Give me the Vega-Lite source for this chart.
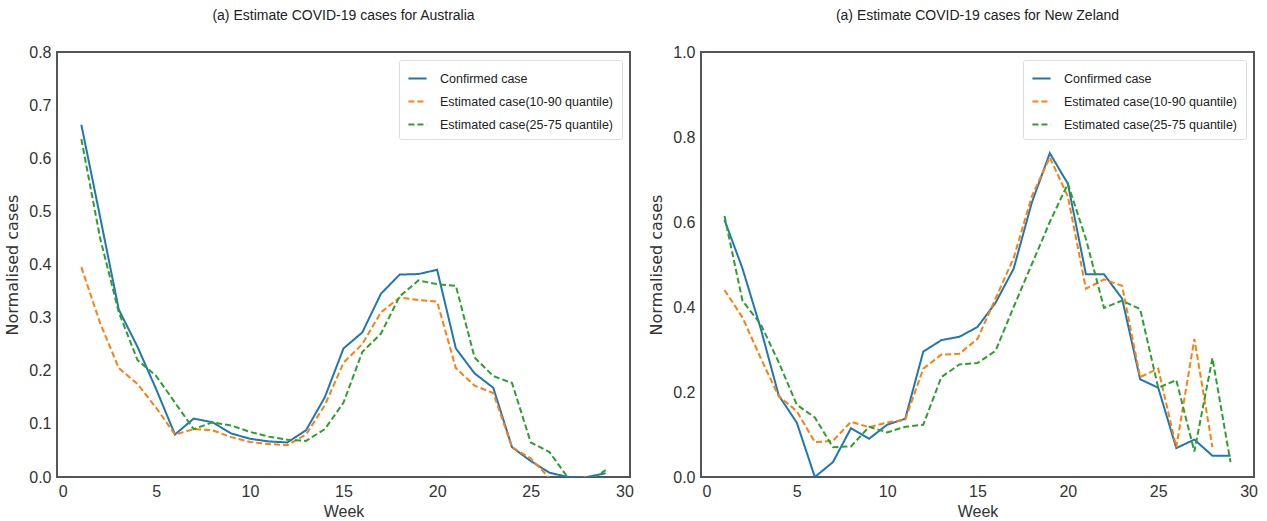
{
  "$schema": "https://vega.github.io/schema/vega-lite/v6.json",
  "background": "white",
  "padding": {"left": 3, "top": 8, "right": 0, "bottom": 0},
  "datasets": {
    "aus": [
      {"week": 1, "series": "Confirmed case", "value": 0.663},
      {"week": 2, "series": "Confirmed case", "value": 0.49},
      {"week": 3, "series": "Confirmed case", "value": 0.315},
      {"week": 4, "series": "Confirmed case", "value": 0.245},
      {"week": 5, "series": "Confirmed case", "value": 0.165},
      {"week": 6, "series": "Confirmed case", "value": 0.08},
      {"week": 7, "series": "Confirmed case", "value": 0.11},
      {"week": 8, "series": "Confirmed case", "value": 0.103},
      {"week": 9, "series": "Confirmed case", "value": 0.082},
      {"week": 10, "series": "Confirmed case", "value": 0.072},
      {"week": 11, "series": "Confirmed case", "value": 0.067},
      {"week": 12, "series": "Confirmed case", "value": 0.065},
      {"week": 13, "series": "Confirmed case", "value": 0.088},
      {"week": 14, "series": "Confirmed case", "value": 0.15},
      {"week": 15, "series": "Confirmed case", "value": 0.242},
      {"week": 16, "series": "Confirmed case", "value": 0.272},
      {"week": 17, "series": "Confirmed case", "value": 0.345},
      {"week": 18, "series": "Confirmed case", "value": 0.381},
      {"week": 19, "series": "Confirmed case", "value": 0.382},
      {"week": 20, "series": "Confirmed case", "value": 0.39},
      {"week": 21, "series": "Confirmed case", "value": 0.242},
      {"week": 22, "series": "Confirmed case", "value": 0.195},
      {"week": 23, "series": "Confirmed case", "value": 0.168},
      {"week": 24, "series": "Confirmed case", "value": 0.056},
      {"week": 25, "series": "Confirmed case", "value": 0.03},
      {"week": 26, "series": "Confirmed case", "value": 0.008},
      {"week": 27, "series": "Confirmed case", "value": 0.0},
      {"week": 28, "series": "Confirmed case", "value": 0.0},
      {"week": 29, "series": "Confirmed case", "value": 0.007},
      {"week": 1, "series": "Estimated case(10-90 quantile)", "value": 0.395},
      {"week": 2, "series": "Estimated case(10-90 quantile)", "value": 0.29},
      {"week": 3, "series": "Estimated case(10-90 quantile)", "value": 0.205},
      {"week": 4, "series": "Estimated case(10-90 quantile)", "value": 0.175},
      {"week": 5, "series": "Estimated case(10-90 quantile)", "value": 0.13},
      {"week": 6, "series": "Estimated case(10-90 quantile)", "value": 0.08},
      {"week": 7, "series": "Estimated case(10-90 quantile)", "value": 0.09},
      {"week": 8, "series": "Estimated case(10-90 quantile)", "value": 0.088},
      {"week": 9, "series": "Estimated case(10-90 quantile)", "value": 0.075},
      {"week": 10, "series": "Estimated case(10-90 quantile)", "value": 0.066},
      {"week": 11, "series": "Estimated case(10-90 quantile)", "value": 0.062},
      {"week": 12, "series": "Estimated case(10-90 quantile)", "value": 0.06},
      {"week": 13, "series": "Estimated case(10-90 quantile)", "value": 0.08},
      {"week": 14, "series": "Estimated case(10-90 quantile)", "value": 0.135},
      {"week": 15, "series": "Estimated case(10-90 quantile)", "value": 0.215},
      {"week": 16, "series": "Estimated case(10-90 quantile)", "value": 0.25},
      {"week": 17, "series": "Estimated case(10-90 quantile)", "value": 0.31},
      {"week": 18, "series": "Estimated case(10-90 quantile)", "value": 0.338},
      {"week": 19, "series": "Estimated case(10-90 quantile)", "value": 0.333},
      {"week": 20, "series": "Estimated case(10-90 quantile)", "value": 0.33},
      {"week": 21, "series": "Estimated case(10-90 quantile)", "value": 0.205},
      {"week": 22, "series": "Estimated case(10-90 quantile)", "value": 0.172},
      {"week": 23, "series": "Estimated case(10-90 quantile)", "value": 0.158},
      {"week": 24, "series": "Estimated case(10-90 quantile)", "value": 0.056},
      {"week": 25, "series": "Estimated case(10-90 quantile)", "value": 0.035},
      {"week": 26, "series": "Estimated case(10-90 quantile)", "value": -0.002},
      {"week": 27, "series": "Estimated case(10-90 quantile)", "value": -0.03},
      {"week": 28, "series": "Estimated case(10-90 quantile)", "value": 0.004},
      {"week": 1, "series": "Estimated case(25-75 quantile)", "value": 0.636},
      {"week": 2, "series": "Estimated case(25-75 quantile)", "value": 0.45},
      {"week": 3, "series": "Estimated case(25-75 quantile)", "value": 0.31},
      {"week": 4, "series": "Estimated case(25-75 quantile)", "value": 0.22},
      {"week": 5, "series": "Estimated case(25-75 quantile)", "value": 0.19},
      {"week": 6, "series": "Estimated case(25-75 quantile)", "value": 0.14},
      {"week": 7, "series": "Estimated case(25-75 quantile)", "value": 0.09},
      {"week": 8, "series": "Estimated case(25-75 quantile)", "value": 0.103},
      {"week": 9, "series": "Estimated case(25-75 quantile)", "value": 0.097},
      {"week": 10, "series": "Estimated case(25-75 quantile)", "value": 0.085},
      {"week": 11, "series": "Estimated case(25-75 quantile)", "value": 0.076},
      {"week": 12, "series": "Estimated case(25-75 quantile)", "value": 0.07},
      {"week": 13, "series": "Estimated case(25-75 quantile)", "value": 0.068},
      {"week": 14, "series": "Estimated case(25-75 quantile)", "value": 0.09},
      {"week": 15, "series": "Estimated case(25-75 quantile)", "value": 0.14},
      {"week": 16, "series": "Estimated case(25-75 quantile)", "value": 0.235},
      {"week": 17, "series": "Estimated case(25-75 quantile)", "value": 0.27},
      {"week": 18, "series": "Estimated case(25-75 quantile)", "value": 0.34},
      {"week": 19, "series": "Estimated case(25-75 quantile)", "value": 0.37},
      {"week": 20, "series": "Estimated case(25-75 quantile)", "value": 0.363},
      {"week": 21, "series": "Estimated case(25-75 quantile)", "value": 0.36},
      {"week": 22, "series": "Estimated case(25-75 quantile)", "value": 0.225},
      {"week": 23, "series": "Estimated case(25-75 quantile)", "value": 0.19},
      {"week": 24, "series": "Estimated case(25-75 quantile)", "value": 0.177},
      {"week": 25, "series": "Estimated case(25-75 quantile)", "value": 0.065},
      {"week": 26, "series": "Estimated case(25-75 quantile)", "value": 0.047},
      {"week": 27, "series": "Estimated case(25-75 quantile)", "value": -0.002},
      {"week": 28, "series": "Estimated case(25-75 quantile)", "value": -0.01},
      {"week": 29, "series": "Estimated case(25-75 quantile)", "value": 0.013}
    ],
    "nz": [
      {"week": 1, "series": "Confirmed case", "value": 0.605},
      {"week": 2, "series": "Confirmed case", "value": 0.49},
      {"week": 3, "series": "Confirmed case", "value": 0.35},
      {"week": 4, "series": "Confirmed case", "value": 0.192},
      {"week": 5, "series": "Confirmed case", "value": 0.128},
      {"week": 6, "series": "Confirmed case", "value": 0.0},
      {"week": 7, "series": "Confirmed case", "value": 0.035},
      {"week": 8, "series": "Confirmed case", "value": 0.115},
      {"week": 9, "series": "Confirmed case", "value": 0.09},
      {"week": 10, "series": "Confirmed case", "value": 0.123},
      {"week": 11, "series": "Confirmed case", "value": 0.137},
      {"week": 12, "series": "Confirmed case", "value": 0.295},
      {"week": 13, "series": "Confirmed case", "value": 0.322},
      {"week": 14, "series": "Confirmed case", "value": 0.33},
      {"week": 15, "series": "Confirmed case", "value": 0.353},
      {"week": 16, "series": "Confirmed case", "value": 0.41},
      {"week": 17, "series": "Confirmed case", "value": 0.49},
      {"week": 18, "series": "Confirmed case", "value": 0.645},
      {"week": 19, "series": "Confirmed case", "value": 0.762},
      {"week": 20, "series": "Confirmed case", "value": 0.69},
      {"week": 21, "series": "Confirmed case", "value": 0.477},
      {"week": 22, "series": "Confirmed case", "value": 0.477},
      {"week": 23, "series": "Confirmed case", "value": 0.42},
      {"week": 24, "series": "Confirmed case", "value": 0.23},
      {"week": 25, "series": "Confirmed case", "value": 0.21},
      {"week": 26, "series": "Confirmed case", "value": 0.068},
      {"week": 27, "series": "Confirmed case", "value": 0.088},
      {"week": 28, "series": "Confirmed case", "value": 0.05},
      {"week": 29, "series": "Confirmed case", "value": 0.05},
      {"week": 1, "series": "Estimated case(10-90 quantile)", "value": 0.44},
      {"week": 2, "series": "Estimated case(10-90 quantile)", "value": 0.375},
      {"week": 3, "series": "Estimated case(10-90 quantile)", "value": 0.28},
      {"week": 4, "series": "Estimated case(10-90 quantile)", "value": 0.19},
      {"week": 5, "series": "Estimated case(10-90 quantile)", "value": 0.155},
      {"week": 6, "series": "Estimated case(10-90 quantile)", "value": 0.082},
      {"week": 7, "series": "Estimated case(10-90 quantile)", "value": 0.085},
      {"week": 8, "series": "Estimated case(10-90 quantile)", "value": 0.13},
      {"week": 9, "series": "Estimated case(10-90 quantile)", "value": 0.117},
      {"week": 10, "series": "Estimated case(10-90 quantile)", "value": 0.128},
      {"week": 11, "series": "Estimated case(10-90 quantile)", "value": 0.135},
      {"week": 12, "series": "Estimated case(10-90 quantile)", "value": 0.255},
      {"week": 13, "series": "Estimated case(10-90 quantile)", "value": 0.288},
      {"week": 14, "series": "Estimated case(10-90 quantile)", "value": 0.29},
      {"week": 15, "series": "Estimated case(10-90 quantile)", "value": 0.325},
      {"week": 16, "series": "Estimated case(10-90 quantile)", "value": 0.42},
      {"week": 17, "series": "Estimated case(10-90 quantile)", "value": 0.515},
      {"week": 18, "series": "Estimated case(10-90 quantile)", "value": 0.66},
      {"week": 19, "series": "Estimated case(10-90 quantile)", "value": 0.752},
      {"week": 20, "series": "Estimated case(10-90 quantile)", "value": 0.66},
      {"week": 21, "series": "Estimated case(10-90 quantile)", "value": 0.443},
      {"week": 22, "series": "Estimated case(10-90 quantile)", "value": 0.465},
      {"week": 23, "series": "Estimated case(10-90 quantile)", "value": 0.45},
      {"week": 24, "series": "Estimated case(10-90 quantile)", "value": 0.235},
      {"week": 25, "series": "Estimated case(10-90 quantile)", "value": 0.255},
      {"week": 26, "series": "Estimated case(10-90 quantile)", "value": 0.07},
      {"week": 27, "series": "Estimated case(10-90 quantile)", "value": 0.325},
      {"week": 28, "series": "Estimated case(10-90 quantile)", "value": 0.07},
      {"week": 1, "series": "Estimated case(25-75 quantile)", "value": 0.614},
      {"week": 2, "series": "Estimated case(25-75 quantile)", "value": 0.414},
      {"week": 3, "series": "Estimated case(25-75 quantile)", "value": 0.36},
      {"week": 4, "series": "Estimated case(25-75 quantile)", "value": 0.27},
      {"week": 5, "series": "Estimated case(25-75 quantile)", "value": 0.17},
      {"week": 6, "series": "Estimated case(25-75 quantile)", "value": 0.14},
      {"week": 7, "series": "Estimated case(25-75 quantile)", "value": 0.07},
      {"week": 8, "series": "Estimated case(25-75 quantile)", "value": 0.072},
      {"week": 9, "series": "Estimated case(25-75 quantile)", "value": 0.118},
      {"week": 10, "series": "Estimated case(25-75 quantile)", "value": 0.105},
      {"week": 11, "series": "Estimated case(25-75 quantile)", "value": 0.118},
      {"week": 12, "series": "Estimated case(25-75 quantile)", "value": 0.123},
      {"week": 13, "series": "Estimated case(25-75 quantile)", "value": 0.235},
      {"week": 14, "series": "Estimated case(25-75 quantile)", "value": 0.265},
      {"week": 15, "series": "Estimated case(25-75 quantile)", "value": 0.268},
      {"week": 16, "series": "Estimated case(25-75 quantile)", "value": 0.297},
      {"week": 17, "series": "Estimated case(25-75 quantile)", "value": 0.4},
      {"week": 18, "series": "Estimated case(25-75 quantile)", "value": 0.5},
      {"week": 19, "series": "Estimated case(25-75 quantile)", "value": 0.6},
      {"week": 20, "series": "Estimated case(25-75 quantile)", "value": 0.69},
      {"week": 21, "series": "Estimated case(25-75 quantile)", "value": 0.56},
      {"week": 22, "series": "Estimated case(25-75 quantile)", "value": 0.398},
      {"week": 23, "series": "Estimated case(25-75 quantile)", "value": 0.415},
      {"week": 24, "series": "Estimated case(25-75 quantile)", "value": 0.395},
      {"week": 25, "series": "Estimated case(25-75 quantile)", "value": 0.21},
      {"week": 26, "series": "Estimated case(25-75 quantile)", "value": 0.228},
      {"week": 27, "series": "Estimated case(25-75 quantile)", "value": 0.06},
      {"week": 28, "series": "Estimated case(25-75 quantile)", "value": 0.28},
      {"week": 29, "series": "Estimated case(25-75 quantile)", "value": 0.035}
    ]
  },
  "config": {
    "font": "Liberation Sans",
    "view": {"stroke": "#555555", "strokeWidth": 2},
    "axis": {
      "grid": false,
      "ticks": false,
      "domain": false,
      "labelFont": "Liberation Sans",
      "labelFontSize": 16,
      "labelColor": "#333333",
      "titleFontWeight": "normal",
      "titleColor": "#333333"
    },
    "title": {"font": "Liberation Sans", "fontSize": 14, "fontWeight": "normal", "color": "#222222", "offset": 21},
    "legend": {
      "orient": "top-right",
      "offset": 8,
      "title": null,
      "strokeColor": "#dddddd",
      "fillColor": "white",
      "padding": 8,
      "cornerRadius": 2,
      "symbolType": "stroke",
      "symbolSize": 330,
      "symbolStrokeWidth": 2,
      "labelFont": "Liberation Sans",
      "labelFontSize": 12.5,
      "labelLimit": 0,
      "labelColor": "#222222",
      "rowPadding": 6,
      "labelOffset": 12
    }
  },
  "spacing": 12,
  "hconcat": [
    {
      "title": "(a) Estimate COVID-19 cases for Australia",
      "width": 573,
      "height": 425,
      "data": {"name": "aus"},
      "mark": {"type": "line", "strokeWidth": 2, "clip": true},
      "encoding": {
        "x": {"field": "week", "type": "quantitative", "scale": {"domain": [-0.3, 30.3], "nice": false}, "axis": {"values": [0, 5, 10, 15, 20, 25, 30], "title": "Week", "titleFont": "Liberation Sans", "titleFontSize": 16, "titlePadding": 4, "labelPadding": 6}},
        "y": {"field": "value", "type": "quantitative", "scale": {"domain": [0, 0.8], "nice": false}, "axis": {"values": [0, 0.1, 0.2, 0.3, 0.4, 0.5, 0.6, 0.7, 0.8], "format": ".1f", "title": "Normalised cases", "titleFont": "DejaVu Sans", "titleFontSize": 16, "titlePadding": 8, "labelPadding": 6}},
        "color": {"field": "series", "type": "nominal", "scale": {"domain": ["Confirmed case", "Estimated case(10-90 quantile)", "Estimated case(25-75 quantile)"], "range": ["#1f77b4", "#ff7f0e", "#2ca02c"]}},
        "strokeDash": {"field": "series", "type": "nominal", "scale": {"domain": ["Confirmed case", "Estimated case(10-90 quantile)", "Estimated case(25-75 quantile)"], "range": [[1, 0], [6, 3], [6, 3]]}}
      }
    },
    {
      "title": "(a) Estimate COVID-19 cases for New Zeland",
      "width": 553,
      "height": 425,
      "data": {"name": "nz"},
      "mark": {"type": "line", "strokeWidth": 2, "clip": true},
      "encoding": {
        "x": {"field": "week", "type": "quantitative", "scale": {"domain": [-0.3, 30.3], "nice": false}, "axis": {"values": [0, 5, 10, 15, 20, 25, 30], "title": "Week", "titleFont": "Liberation Sans", "titleFontSize": 16, "titlePadding": 4, "labelPadding": 6}},
        "y": {"field": "value", "type": "quantitative", "scale": {"domain": [0, 1.0], "nice": false}, "axis": {"values": [0, 0.2, 0.4, 0.6, 0.8, 1.0], "format": ".1f", "title": "Normalised cases", "titleFont": "DejaVu Sans", "titleFontSize": 16, "titlePadding": 8, "labelPadding": 6}},
        "color": {"field": "series", "type": "nominal", "scale": {"domain": ["Confirmed case", "Estimated case(10-90 quantile)", "Estimated case(25-75 quantile)"], "range": ["#1f77b4", "#ff7f0e", "#2ca02c"]}},
        "strokeDash": {"field": "series", "type": "nominal", "scale": {"domain": ["Confirmed case", "Estimated case(10-90 quantile)", "Estimated case(25-75 quantile)"], "range": [[1, 0], [6, 3], [6, 3]]}}
      }
    }
  ],
  "resolve": {"scale": {"y": "independent"}, "legend": {"color": "independent", "strokeDash": "independent"}}
}
